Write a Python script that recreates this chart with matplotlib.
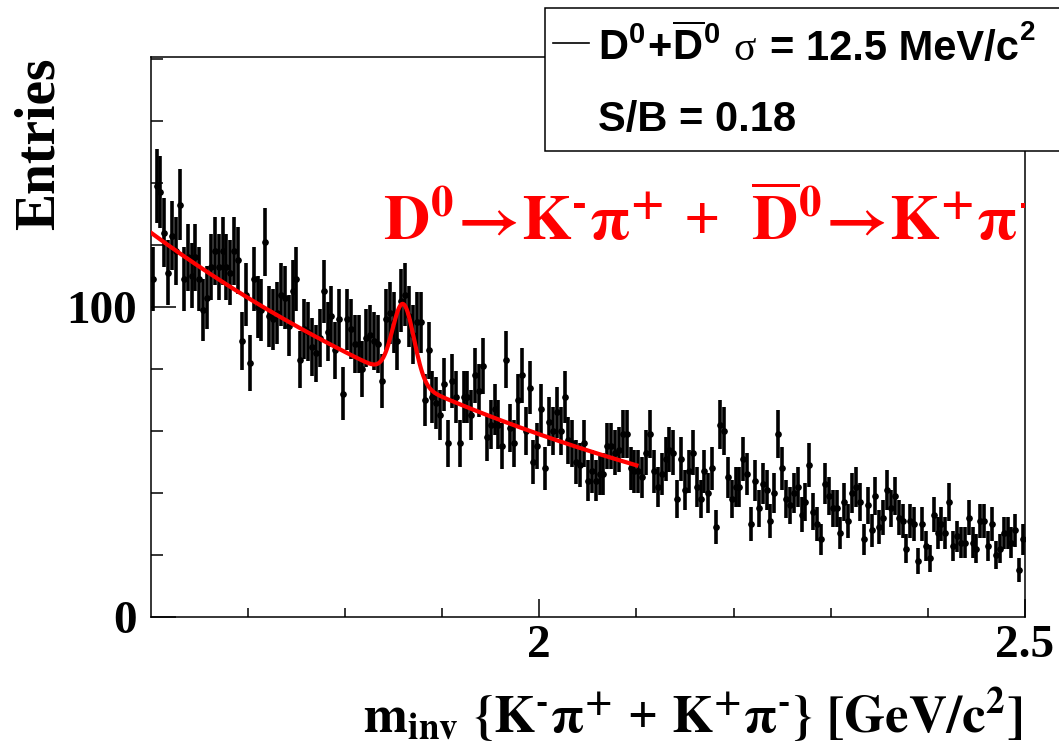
import numpy as np
import matplotlib
matplotlib.use('Agg')
import matplotlib.pyplot as plt
from matplotlib.patches import Rectangle
from matplotlib.lines import Line2D

plt.rcParams['font.family'] = 'Liberation Serif'
plt.rcParams['font.weight'] = 'bold'
plt.rcParams['mathtext.fontset'] = 'stix'
plt.rcParams['mathtext.default'] = 'bf'
plt.rcParams['mathtext.rm'] = 'Liberation Sans:bold'
plt.rcParams['mathtext.it'] = 'Liberation Sans:bold'
plt.rcParams['mathtext.bf'] = 'Liberation Sans:bold'
plt.rcParams['mathtext.sf'] = 'Liberation Sans:bold'

# histogram: 225 bins of 4 MeV from 1.6 to 2.5 GeV/c^2
x_lo, x_hi, n_bins = 1.6, 2.5, 225
counts = [
    109, 139, 137, 124, 111, 123, 118, 133, 109, 116, 110, 116, 109, 99, 103,
    113, 118, 113, 118, 113, 111, 118, 115, 89, 104, 82, 109, 100, 99, 121,
    97, 96, 98, 104, 103, 94, 105, 109, 83, 93, 92, 87, 85, 90, 105,
    92, 97, 86, 96, 72, 96, 93, 88, 88, 80, 90, 91, 89, 88, 76,
    96, 98, 95, 89, 102, 104, 97, 91, 95, 95, 70, 86, 71, 69, 65,
    75, 56, 76, 71, 56, 71, 71, 65, 78, 73, 81, 58, 62, 67, 62,
    55, 83, 61, 56, 70, 78, 60, 74, 50, 55, 67, 48, 63, 60, 66,
    60, 71, 57, 56, 50, 49, 56, 44, 47, 44, 46, 46, 55, 55, 53,
    54, 59, 59, 48, 47, 47, 45, 53, 59, 47, 42, 46, 51, 54, 53,
    38, 51, 41, 47, 53, 42, 38, 47, 40, 48, 29, 62, 60, 45, 38,
    42, 42, 51, 46, 30, 44, 35, 43, 41, 31, 40, 59, 48, 38, 36,
    40, 42, 33, 37, 49, 34, 30, 25, 43, 39, 35, 35, 27, 37, 31,
    40, 42, 37, 25, 36, 28, 39, 29, 32, 41, 35, 39, 32, 31, 22,
    31, 30, 18, 30, 23, 19, 33, 27, 30, 27, 37, 23, 26, 24, 24,
    32, 24, 22, 31, 31, 23, 30, 20, 22, 27, 27, 24, 28, 15, 25,
]

# fit: exponential background + gaussian peak, drawn over the fit range
fit_range = (1.6, 2.1)
bkg_norm = 124.0      # background at 1.6 GeV/c^2
bkg_slope = -1.86     # per GeV/c^2
peak_amp = 24.5
peak_mean = 1.86
peak_sigma = 0.011

edges = np.linspace(x_lo, x_hi, n_bins + 1)
centers = 0.5 * (edges[:-1] + edges[1:])
counts = np.array(counts, dtype=float)
errors = np.sqrt(counts)

xf = np.linspace(fit_range[0], fit_range[1], 400)
yf = bkg_norm * np.exp(bkg_slope * (xf - fit_range[0])) \
    + peak_amp * np.exp(-0.5 * ((xf - peak_mean) / peak_sigma) ** 2)

W, H = 1059, 748
fig = plt.figure(figsize=(W / 100, H / 100), dpi=100)
ax = fig.add_axes([150.7 / W, 1 - 617 / H, (1025 - 150.7) / W, (617 - 57) / H])

ax.errorbar(centers, counts, yerr=errors, fmt='o', color='black', ms=3.8,
            elinewidth=2.6, capsize=0, zorder=2)
ax.plot(xf, yf, color='red', lw=3.0, zorder=3)

ax.set_xlim(x_lo, x_hi)
ax.set_ylim(0, 180.6)
ax.set_xticks([2.0, 2.5])
ax.set_xticklabels(['2', '2.5'])
ax.set_xticks([1.7, 1.8, 1.9, 2.1, 2.2, 2.3, 2.4], minor=True)
ax.set_yticks([0, 100])
ax.set_yticklabels(['0', '100'])
ax.set_yticks([20, 40, 60, 80, 120, 140, 160, 180], minor=True)
ax.tick_params(which='both', direction='in', top=False, right=False,
               width=1.1, labelsize=34)
ax.xaxis.set_tick_params(which='major', length=13, pad=6)
ax.xaxis.set_tick_params(which='minor', length=6.5)
ax.yaxis.set_tick_params(which='major', length=18, pad=10)
ax.yaxis.set_tick_params(which='minor', length=8.6)
for s in ax.spines.values():
    s.set_linewidth(1.1)

# decay channel label, clipped by the frame like in the original
ax.text((383 - 150.7) / (1025 - 150.7), (617 - 240) / (617 - 57),
        r'$D^{0}\!\rightarrow\!K^{\text{-}}\pi^{+}$ +  '
        r'$\overline{D}^{0}\!\rightarrow\!K^{+}\pi^{\text{-}}$',
        transform=ax.transAxes, color='red', fontsize=46, va='baseline',
        ha='left', clip_on=True, zorder=4)

fig.text(1022 / W, 1 - 733 / H,
         r'$m_{inv}\ \{K^{\text{-}}\pi^{+}$ + $K^{+}\pi^{\text{-}}\}\ [GeV/c^{2}]$',
         fontsize=38, ha='right', va='baseline')
fig.text(40 / W, 1 - 58 / H, 'Entries', rotation=90, ha='center', va='top',
         fontsize=40)

# legend box (runs off the right edge)
fig.add_artist(Rectangle((545 / W, 1 - 150.7 / H), (1080 - 545) / W,
                         (150.7 - 8) / H, transform=fig.transFigure,
                         facecolor='white', edgecolor='black', lw=1.1,
                         zorder=5, clip_on=False))
fig.add_artist(Line2D([553 / W, 589 / W], [1 - 43 / H, 1 - 43 / H],
                      transform=fig.transFigure, color='black', lw=1.2,
                      zorder=6))
fig.text(598 / W, 1 - 60 / H, r'$D^{0}\!+\!\overline{D}^{0}$',
         math_fontfamily='custom', fontsize=30, va='baseline', zorder=6)
fig.text(733 / W, 1 - 60 / H, 'σ', family='Liberation Serif',
         weight='normal', fontsize=30, va='baseline', zorder=6)
fig.text(770 / W, 1 - 60 / H, '= 12.5 MeV/c', family='Liberation Sans',
         weight='bold', fontsize=30, va='baseline', zorder=6)
fig.text(1020 / W, 1 - 40 / H, '2', family='Liberation Sans',
         weight='bold', fontsize=20, va='baseline', zorder=6)
fig.text(598 / W, 1 - 131 / H, 'S/B = 0.18', family='Liberation Sans',
         weight='bold', fontsize=30, va='baseline', zorder=6)

fig.savefig('out.png', dpi=100, facecolor='white')
